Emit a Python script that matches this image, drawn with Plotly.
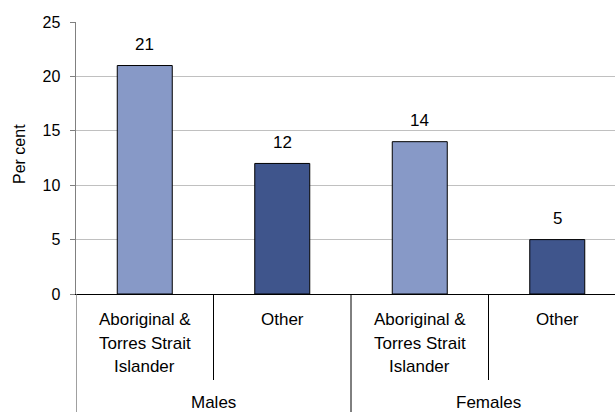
import plotly.graph_objects as go

# Data
groups = ["Males", "Females"]
categories = ["Aboriginal & Torres Strait Islander", "Other",
              "Aboriginal & Torres Strait Islander", "Other"]
category_lines = [["Aboriginal &", "Torres Strait", "Islander"], ["Other"],
                  ["Aboriginal &", "Torres Strait", "Islander"], ["Other"]]
values = [21, 12, 14, 5]
y_ticks = [0, 5, 10, 15, 20, 25]
y_title = "Per cent"

light = "#8799C7"
dark = "#3F558C"
bar_colors = [light, dark, light, dark]
FONT = "Arial, Liberation Sans, sans-serif"

xpos = list(range(len(values)))

fig = go.Figure()
fig.add_trace(go.Bar(
    x=xpos, y=values, width=0.4,
    marker=dict(color=bar_colors, line=dict(color="#000000", width=1)),
    hoverinfo="skip", showlegend=False,
))

annotations = []
# value labels
for xi, v in zip(xpos, values):
    annotations.append(dict(x=xi, y=v, xref="x", yref="y", text=str(v),
                            showarrow=False, yshift=21, yanchor="middle",
                            font=dict(family=FONT, size=17, color="#000")))
# category labels (line by line)
line_shifts = [-25, -49, -72]
for xi, lines in zip(xpos, category_lines):
    for ln, sh in zip(lines, line_shifts):
        annotations.append(dict(x=xi, y=0, xref="x", yref="paper", text=ln,
                                showarrow=False, yshift=sh, yanchor="middle",
                                font=dict(family=FONT, size=17, color="#000")))
# group labels
for gi, g in enumerate(groups):
    annotations.append(dict(x=gi * 2 + 0.5, y=0, xref="x", yref="paper", text=g,
                            showarrow=False, yshift=-108, yanchor="middle",
                            font=dict(family=FONT, size=17, color="#000")))
# y title
annotations.append(dict(x=0, y=0.5, xref="paper", yref="paper", text=y_title,
                        showarrow=False, xshift=-57, yshift=4, textangle=-90,
                        xanchor="center", yanchor="middle",
                        font=dict(family=FONT, size=16, color="#000")))

plot_h = 412 - 22 - 118
shapes = []
# inner dividers
for xb in [0.5, 2.5]:
    shapes.append(dict(type="line", xref="x", yref="paper", x0=xb, x1=xb,
                       y0=0, y1=-86 / plot_h, line=dict(color="#000", width=1)))
# group dividers
shapes.append(dict(type="line", xref="x", yref="paper", x0=1.5, x1=1.5,
                   y0=0, y1=-1.0 * 118 / plot_h, line=dict(color="#000", width=1)))
shapes.append(dict(type="line", xref="x", yref="paper", x0=-0.5, x1=-0.5,
                   y0=0, y1=-1.0 * 118 / plot_h, line=dict(color="#808080", width=1.5)))

fig.update_layout(
    width=615, height=412,
    margin=dict(l=76, r=0, t=22, b=118),
    plot_bgcolor="#FFFFFF", paper_bgcolor="#FFFFFF",
    font=dict(family=FONT, size=16, color="#000"),
    annotations=annotations, shapes=shapes,
    bargap=0.6,
)
fig.update_xaxes(range=[-0.5, -0.5 + 539 / 137.5], showgrid=False, showticklabels=False,
                 ticks="", showline=True, linecolor="#000", linewidth=1, zeroline=False,
                 fixedrange=True)
fig.update_yaxes(range=[0, 25], tickvals=y_ticks, showgrid=True, gridcolor="#C0C0C0",
                 gridwidth=1, zeroline=False, showline=True, linecolor="#808080",
                 linewidth=1.5, ticks="outside", ticklen=5, tickcolor="#808080",
                 tickfont=dict(family=FONT, size=16, color="#000"),
                 ticklabelstandoff=6, fixedrange=True)

fig.write_html(
    "out.html",
    config={"displayModeBar": False, "staticPlot": True},
    post_script="document.body.style.margin='0';document.body.style.overflow='hidden';",
)
